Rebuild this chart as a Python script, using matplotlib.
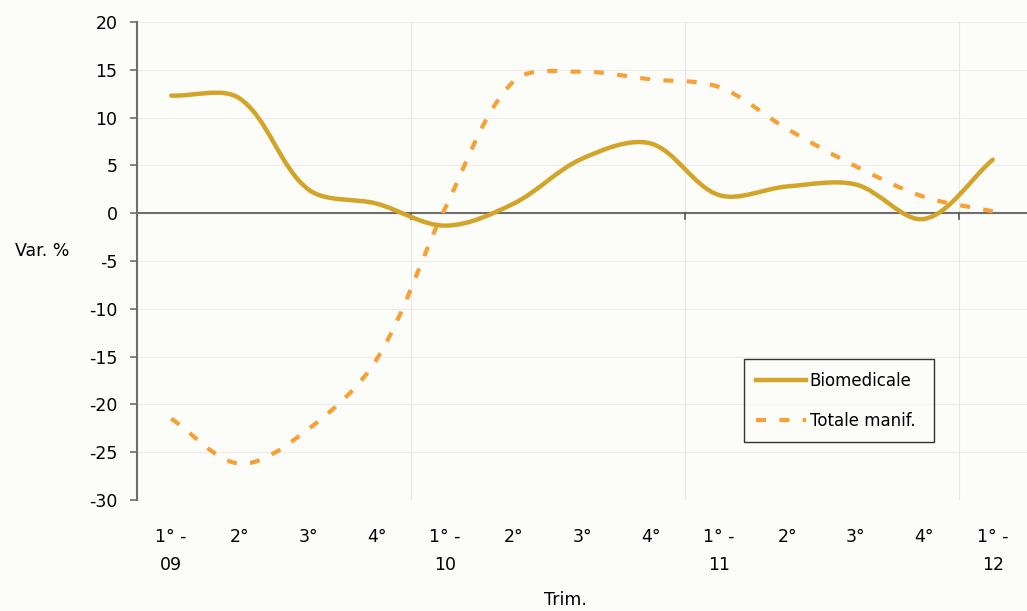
import numpy as np
import matplotlib
matplotlib.use("Agg")
import matplotlib.pyplot as plt
from matplotlib.path import Path
from matplotlib.patches import PathPatch
from matplotlib.lines import Line2D

plt.rcParams["axes.unicode_minus"] = False

# data --------------------------------------------------------------------
quarters = ["1° -\n09", "2°", "3°", "4°", "1° -\n10", "2°", "3°", "4°",
            "1° -\n11", "2°", "3°", "4°", "1° -\n12"]
biomedicale = [12.3, 12.0, 2.5, 1.0, -1.3, 1.0, 5.7, 7.3, 1.9, 2.8, 3.0, -0.6, 5.6]
totale_manif = [-21.5, -26.2, -22.6, -15.3, 0.5, 13.8, 14.8, 14.0, 13.2, 8.8, 4.9, 1.7, 0.2]
yticks = [20, 15, 10, 5, 0, -5, -10, -15, -20, -25, -30]

bg = "#fcfcf8"
gold = "#d2a52a"
orange = "#f7a035"

# pixel size of one unit on each axis, used to weight the smoothing
SX, SY = 68.5, 9.56


def smooth_path(xs, ys):
    # excel-like smoothed line: bezier segments through each point,
    # control arms scaled by neighbouring segment lengths
    pts = np.column_stack([xs, ys]).astype(float)
    n = len(pts)

    def dist(a, b):
        return np.hypot((b[0] - a[0]) * SX, (b[1] - a[1]) * SY)

    verts = [pts[0]]
    codes = [Path.MOVETO]
    for i in range(n - 1):
        p1, p2 = pts[i], pts[i + 1]
        d12 = dist(p1, p2)
        if i > 0:
            p0 = pts[i - 1]
            c1 = p1 + (p2 - p0) * d12 / (3 * (dist(p0, p1) + d12))
        else:
            c1 = p1 + (p2 - p1) / 3
        if i + 2 < n:
            p3 = pts[i + 2]
            c2 = p2 - (p3 - p1) * d12 / (3 * (d12 + dist(p2, p3)))
        else:
            c2 = p2 - (p2 - p1) / 3
        verts += [c1, c2, p2]
        codes += [Path.CURVE4] * 3
    return Path(verts, codes)


fig = plt.figure(figsize=(10.27, 6.11), dpi=100, facecolor=bg)
ax = fig.add_axes([0.1334, 0.1817, 0.8666, 0.7823], facecolor=bg)

x = np.arange(len(quarters))
dash = (0, (2.4, 3.2))

ax.add_patch(PathPatch(smooth_path(x, totale_manif), fill=False, edgecolor=orange,
                       lw=3.0, linestyle=dash, capstyle="butt", zorder=3))
ax.add_patch(PathPatch(smooth_path(x, biomedicale), fill=False, edgecolor=gold,
                       lw=3.2, capstyle="round", zorder=4))

ax.set_xlim(-0.5, len(quarters) - 0.5)
ax.set_ylim(-30, 20)

# grid
for v in yticks:
    ax.axhline(v, color="#ececec", lw=0.8, zorder=1)
for b in [3.5, 7.5, 11.5]:
    ax.axvline(b, color="#e6e6e6", lw=0.8, zorder=1)
ax.axhline(0, color="#6e6e6e", lw=1.5, zorder=2)
# small ticks on the zero line
for b in [3.5, 7.5, 11.5]:
    ax.plot([b, b], [0, -0.6], color="#555555", lw=1.2, zorder=2)

for s in ["top", "right", "bottom"]:
    ax.spines[s].set_visible(False)
ax.spines["left"].set_color("#6e6e6e")
ax.spines["left"].set_linewidth(1.5)

ax.set_yticks(yticks)
ax.tick_params(axis="y", length=5, width=1.2, color="#6e6e6e", labelsize=12.5, pad=9)
ax.set_xticks(x)
ax.set_xticklabels(quarters, fontsize=12.5, linespacing=1.7, va="top")
ax.tick_params(axis="x", length=0, pad=20)

ax.set_ylabel("Var. %", fontsize=12.5, rotation=0, va="center", ha="center")
ax.yaxis.set_label_coords(-0.107, 0.52)
fig.text(565 / 1027, 1 - 600 / 611, "Trim.", fontsize=12.5, ha="center", va="center")

handles = [Line2D([], [], color=gold, lw=3.2),
           Line2D([], [], color=orange, lw=3.0, linestyle=dash)]
leg = ax.legend(handles, ["Biomedicale", "Totale manif."], loc="lower left",
                bbox_to_anchor=(0.682, 0.121, 0.2135, 0.176), mode="expand",
                borderaxespad=0, fontsize=12, frameon=True, fancybox=False,
                handlelength=3.0, handletextpad=0.2, borderpad=0.75,
                labelspacing=1.3)
leg.get_frame().set_edgecolor("black")
leg.get_frame().set_linewidth(1.0)
leg.get_frame().set_facecolor(bg)

plt.savefig("out.png", dpi=100, facecolor=bg)
